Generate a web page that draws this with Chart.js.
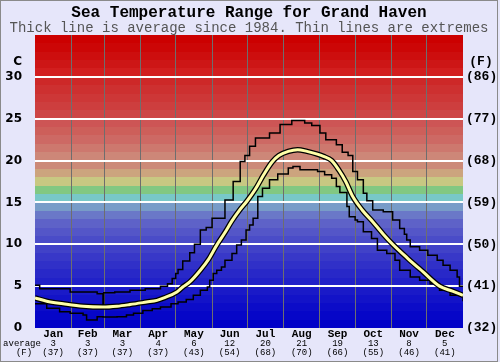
<!DOCTYPE html>
<html>
<head>
<meta charset="utf-8">
<script src="https://cdn.jsdelivr.net/npm/chart.js@4.4.1/dist/chart.umd.min.js"></script>
<style>
  html, body { margin: 0; padding: 0; background: #e6e6fa; }
  canvas { display: block; }
</style>
</head>
<body>
<canvas id="chart" width="500" height="362"></canvas>
<script>
  /* ===== Data (day of year -> deg C) ===== */
  const maxDays = [0, 4, 30, 53, 57.5, 58, 58.6, 68, 81, 94, 107, 113, 117, 120, 122, 126, 132, 136, 141, 146, 151, 162, 169, 175, 179, 183, 188, 200, 209, 219, 226, 230, 236, 243, 248, 257, 262, 267, 271, 275, 280, 283, 288, 297, 305, 311, 315, 317, 320, 328, 335, 343, 348, 354, 360, 362, 365];
  const maxTemps = [5.1, 4.7, 4.3, 4.1, 4.1, 2.5, 4.2, 4.3, 4.5, 4.7, 5.0, 5.3, 5.9, 6.5, 7.0, 8.0, 9.0, 10.0, 11.7, 12.0, 13.1, 15.3, 17.5, 19.9, 20.6, 21.7, 22.7, 23.3, 24.3, 24.8, 24.8, 24.5, 24.2, 23.3, 22.5, 21.9, 21.0, 20.6, 18.7, 17.7, 16.1, 15.2, 14.1, 13.9, 12.9, 11.9, 11.2, 10.5, 9.7, 9.3, 8.7, 8.1, 7.5, 6.9, 6.1, 5.0, 5.0];

  const minDays = [0, 10, 21, 30, 41, 44, 52, 53, 58, 70, 78, 84, 92, 100, 107, 116, 122, 129, 135, 141, 147, 149, 152, 155, 159, 162, 168, 172, 176, 180, 183, 186, 190, 194, 200, 207, 216, 220, 226, 237, 241, 247, 253, 257, 260, 266, 268, 273, 275, 280, 287, 292, 300, 307, 311, 320, 328, 337, 345, 354, 365];
  const minTemps = [2.9, 2.35, 1.95, 1.75, 1.55, 0.95, 0.95, 1.35, 1.3, 1.35, 1.55, 1.75, 2.1, 2.3, 2.5, 2.9, 3.1, 3.4, 3.9, 4.5, 4.9, 5.7, 6.5, 6.9, 7.3, 8.1, 8.9, 9.9, 10.5, 11.7, 12.3, 13.1, 15.7, 16.7, 17.7, 18.4, 19.1, 19.3, 18.9, 18.9, 18.7, 18.3, 17.9, 16.9, 16.2, 14.5, 13.3, 12.9, 12.7, 11.5, 10.7, 9.3, 8.9, 8.1, 6.9, 6.1, 5.7, 5.3, 4.5, 3.9, 3.2];

  const avgDays = [0, 10, 24, 41, 58, 70, 81, 95, 104, 110, 121, 126, 132, 141, 148, 155, 162, 168, 174, 181, 188, 195, 202, 208, 216, 224, 232, 240, 246, 253, 259, 265, 271, 279, 288, 297, 305, 318, 331, 345, 356, 365];
  const avgTemps = [3.6, 3.2, 2.9, 2.6, 2.5, 2.6, 2.8, 3.1, 3.3, 3.6, 4.3, 4.9, 5.5, 6.9, 8.2, 9.9, 11.4, 12.8, 14.0, 15.2, 16.6, 18.3, 19.8, 20.6, 21.1, 21.3, 21.1, 20.8, 20.5, 20.0, 18.9, 17.5, 15.7, 14.1, 12.7, 11.2, 10.0, 8.3, 6.7, 5.0, 4.4, 3.9];

  const monthNames = ['Jan', 'Feb', 'Mar', 'Apr', 'May', 'Jun', 'Jul', 'Aug', 'Sep', 'Oct', 'Nov', 'Dec'];
  const monthStarts = [0, 31, 59, 90, 120, 151, 181, 212, 243, 273, 304, 334, 365];
  const monthAvgC = [3, 3, 3, 4, 6, 12, 20, 21, 19, 13, 8, 5];
  const monthAvgF = [37, 37, 37, 37, 43, 54, 68, 70, 66, 55, 46, 41];

  const cTicks = [0, 5, 10, 15, 20, 25, 30];
  const fTickLabels = ['(32)', '(41)', '(50)', '(59)', '(68)', '(77)', '(86)'];

  /* ===== Style ===== */
  const BG = '#e6e6fa';
  const MONO = '"Liberation Mono", "Courier New", monospace';
  // one colour per 1 deg C band, from 0-1 up to 34-35
  const BAND_COLORS = [
    '#0000c8', '#0606c8', '#0c0cc8', '#1313c8', '#1a1ac8', '#2121c8', '#2828c8', '#3030c8',
    '#3838c8', '#4142c8', '#4a4cc8', '#5456c8', '#5e62c8', '#6a78c8', '#789cc8', '#78c8c8',
    '#82c882', '#c8c882', '#cca47e', '#cc8a78', '#cd8778', '#cd786e', '#cd6964', '#cd5f5a',
    '#cd5555', '#cd4646', '#cd3e3e', '#cd3737', '#cd3030', '#cd2828', '#d21e1e', '#cd1616',
    '#cd0e0e', '#cc0606', '#cc0000'
  ];

  const toPoints = (xs, ys) => xs.map((x, i) => ({ x, y: ys[i] }));
  const monthMids = monthStarts.slice(0, -1).map((s, i) => (s + monthStarts[i + 1]) / 2);

  /* ===== Plugins ===== */
  const bandsPlugin = {
    id: 'bands',
    beforeDraw(chart) {
      const { ctx, chartArea: a, scales: { y } } = chart;
      ctx.save();
      ctx.fillStyle = BG;
      ctx.fillRect(0, 0, chart.width, chart.height);
      BAND_COLORS.forEach((c, i) => {
        const top = Math.round(y.getPixelForValue(i + 1));
        const bot = Math.round(y.getPixelForValue(i));
        ctx.fillStyle = c;
        ctx.fillRect(a.left, top, a.right - a.left, bot - top);
      });
      ctx.restore();
    }
  };

  const textPlugin = {
    id: 'texts',
    afterDraw(chart) {
      const { ctx, scales: { x } } = chart;
      ctx.save();
      ctx.textAlign = 'center';
      ctx.textBaseline = 'middle';
      ctx.fillStyle = '#000';
      ctx.font = 'bold 16px ' + MONO;
      ctx.fillText('Sea Temperature Range for Grand Haven', 249, 13);
      ctx.fillStyle = '#555';
      ctx.font = '14px ' + MONO;
      ctx.fillText('Thick line is average since 1984. Thin lines are extremes', 249, 28);

      ctx.fillStyle = '#000';
      ctx.font = 'bold 12px "DejaVu Sans", sans-serif';
      ctx.textAlign = 'right';
      ctx.fillText('C', 22, 62);
      ctx.textAlign = 'center';
      ctx.font = 'bold 13px ' + MONO;
      ctx.fillText('(F)', 481, 62);

      ctx.font = '9px ' + MONO;
      ctx.fillText('average', 22, 344);
      ctx.fillText('(F)', 24, 353);
      monthMids.forEach((m, i) => {
        const cx = x.getPixelForValue(m);
        ctx.fillText(String(monthAvgC[i]), cx, 344);
        ctx.fillText('(' + monthAvgF[i] + ')', cx, 353);
      });

      ctx.strokeStyle = '#8a8a8a';
      ctx.lineWidth = 1;
      ctx.strokeRect(0.5, 0.5, 497, 361);
      ctx.restore();
    }
  };

  /* ===== Chart ===== */
  const xTickValues = [...monthStarts, ...monthMids].sort((a, b) => a - b);

  new Chart(document.getElementById('chart'), {
    type: 'line',
    data: {
      datasets: [
        // lower "order" is painted on top
        { data: toPoints(avgDays, avgTemps), order: 0, borderColor: '#ffffa8', borderWidth: 3, cubicInterpolationMode: 'monotone', pointRadius: 0 },
        { data: toPoints(avgDays, avgTemps), order: 1, borderColor: '#000', borderWidth: 5.5, cubicInterpolationMode: 'monotone', pointRadius: 0 },
        { data: toPoints(maxDays, maxTemps), order: 2, borderColor: '#000', borderWidth: 1.5, stepped: true, pointRadius: 0 },
        { data: toPoints(minDays, minTemps), order: 2, borderColor: '#000', borderWidth: 1.5, stepped: true, pointRadius: 0 }
      ]
    },
    options: {
      responsive: false,
      animation: false,
      events: [],
      layout: { padding: { top: 35, left: 0, right: 0, bottom: 0 } },
      plugins: { legend: { display: false }, tooltip: { enabled: false } },
      scales: {
        x: {
          type: 'linear',
          min: 0,
          max: 365,
          afterBuildTicks: s => { s.ticks = xTickValues.map(v => ({ value: v })); },
          afterFit: s => { s.height = 34; },
          border: { display: false },
          grid: {
            drawTicks: false,
            lineWidth: 1,
            color: c => {
              const v = c.tick && c.tick.value;
              return (v > 0 && v < 365 && monthStarts.includes(v)) ? '#6e6e6e' : 'rgba(0,0,0,0)';
            }
          },
          ticks: {
            autoSkip: false,
            maxRotation: 0,
            padding: 0,
            color: '#000',
            font: { family: MONO, size: 11, weight: 'bold' },
            callback: v => {
              const i = monthMids.indexOf(v);
              return i >= 0 ? monthNames[i] : '';
            }
          }
        },
        y: {
          position: 'left',
          min: 0,
          max: 35,
          afterBuildTicks: s => { s.ticks = [...cTicks, 35].map(v => ({ value: v })); },
          afterFit: s => { s.width = 35; },
          border: { display: false },
          grid: {
            drawTicks: false,
            lineWidth: 2,
            color: c => {
              const v = c.tick && c.tick.value;
              return (v > 0 && v <= 30) ? '#ffffff' : 'rgba(0,0,0,0)';
            }
          },
          ticks: {
            padding: 13,
            color: '#000',
            font: { family: '"DejaVu Sans", sans-serif', size: 12, weight: 'bold' },
            callback: v => (cTicks.includes(v) ? String(v) : '')
          }
        },
        y2: {
          position: 'right',
          min: 0,
          max: 35,
          afterBuildTicks: s => { s.ticks = [...cTicks, 35].map(v => ({ value: v })); },
          afterFit: s => { s.width = 37; },
          border: { display: false },
          grid: { display: false, drawTicks: false },
          ticks: {
            padding: 3,
            color: '#000',
            font: { family: MONO, size: 13, weight: 'bold' },
            callback: v => {
              const i = cTicks.indexOf(v);
              return i >= 0 ? fTickLabels[i] : '';
            }
          }
        }
      }
    },
    plugins: [bandsPlugin, textPlugin]
  });
</script>
</body>
</html>
